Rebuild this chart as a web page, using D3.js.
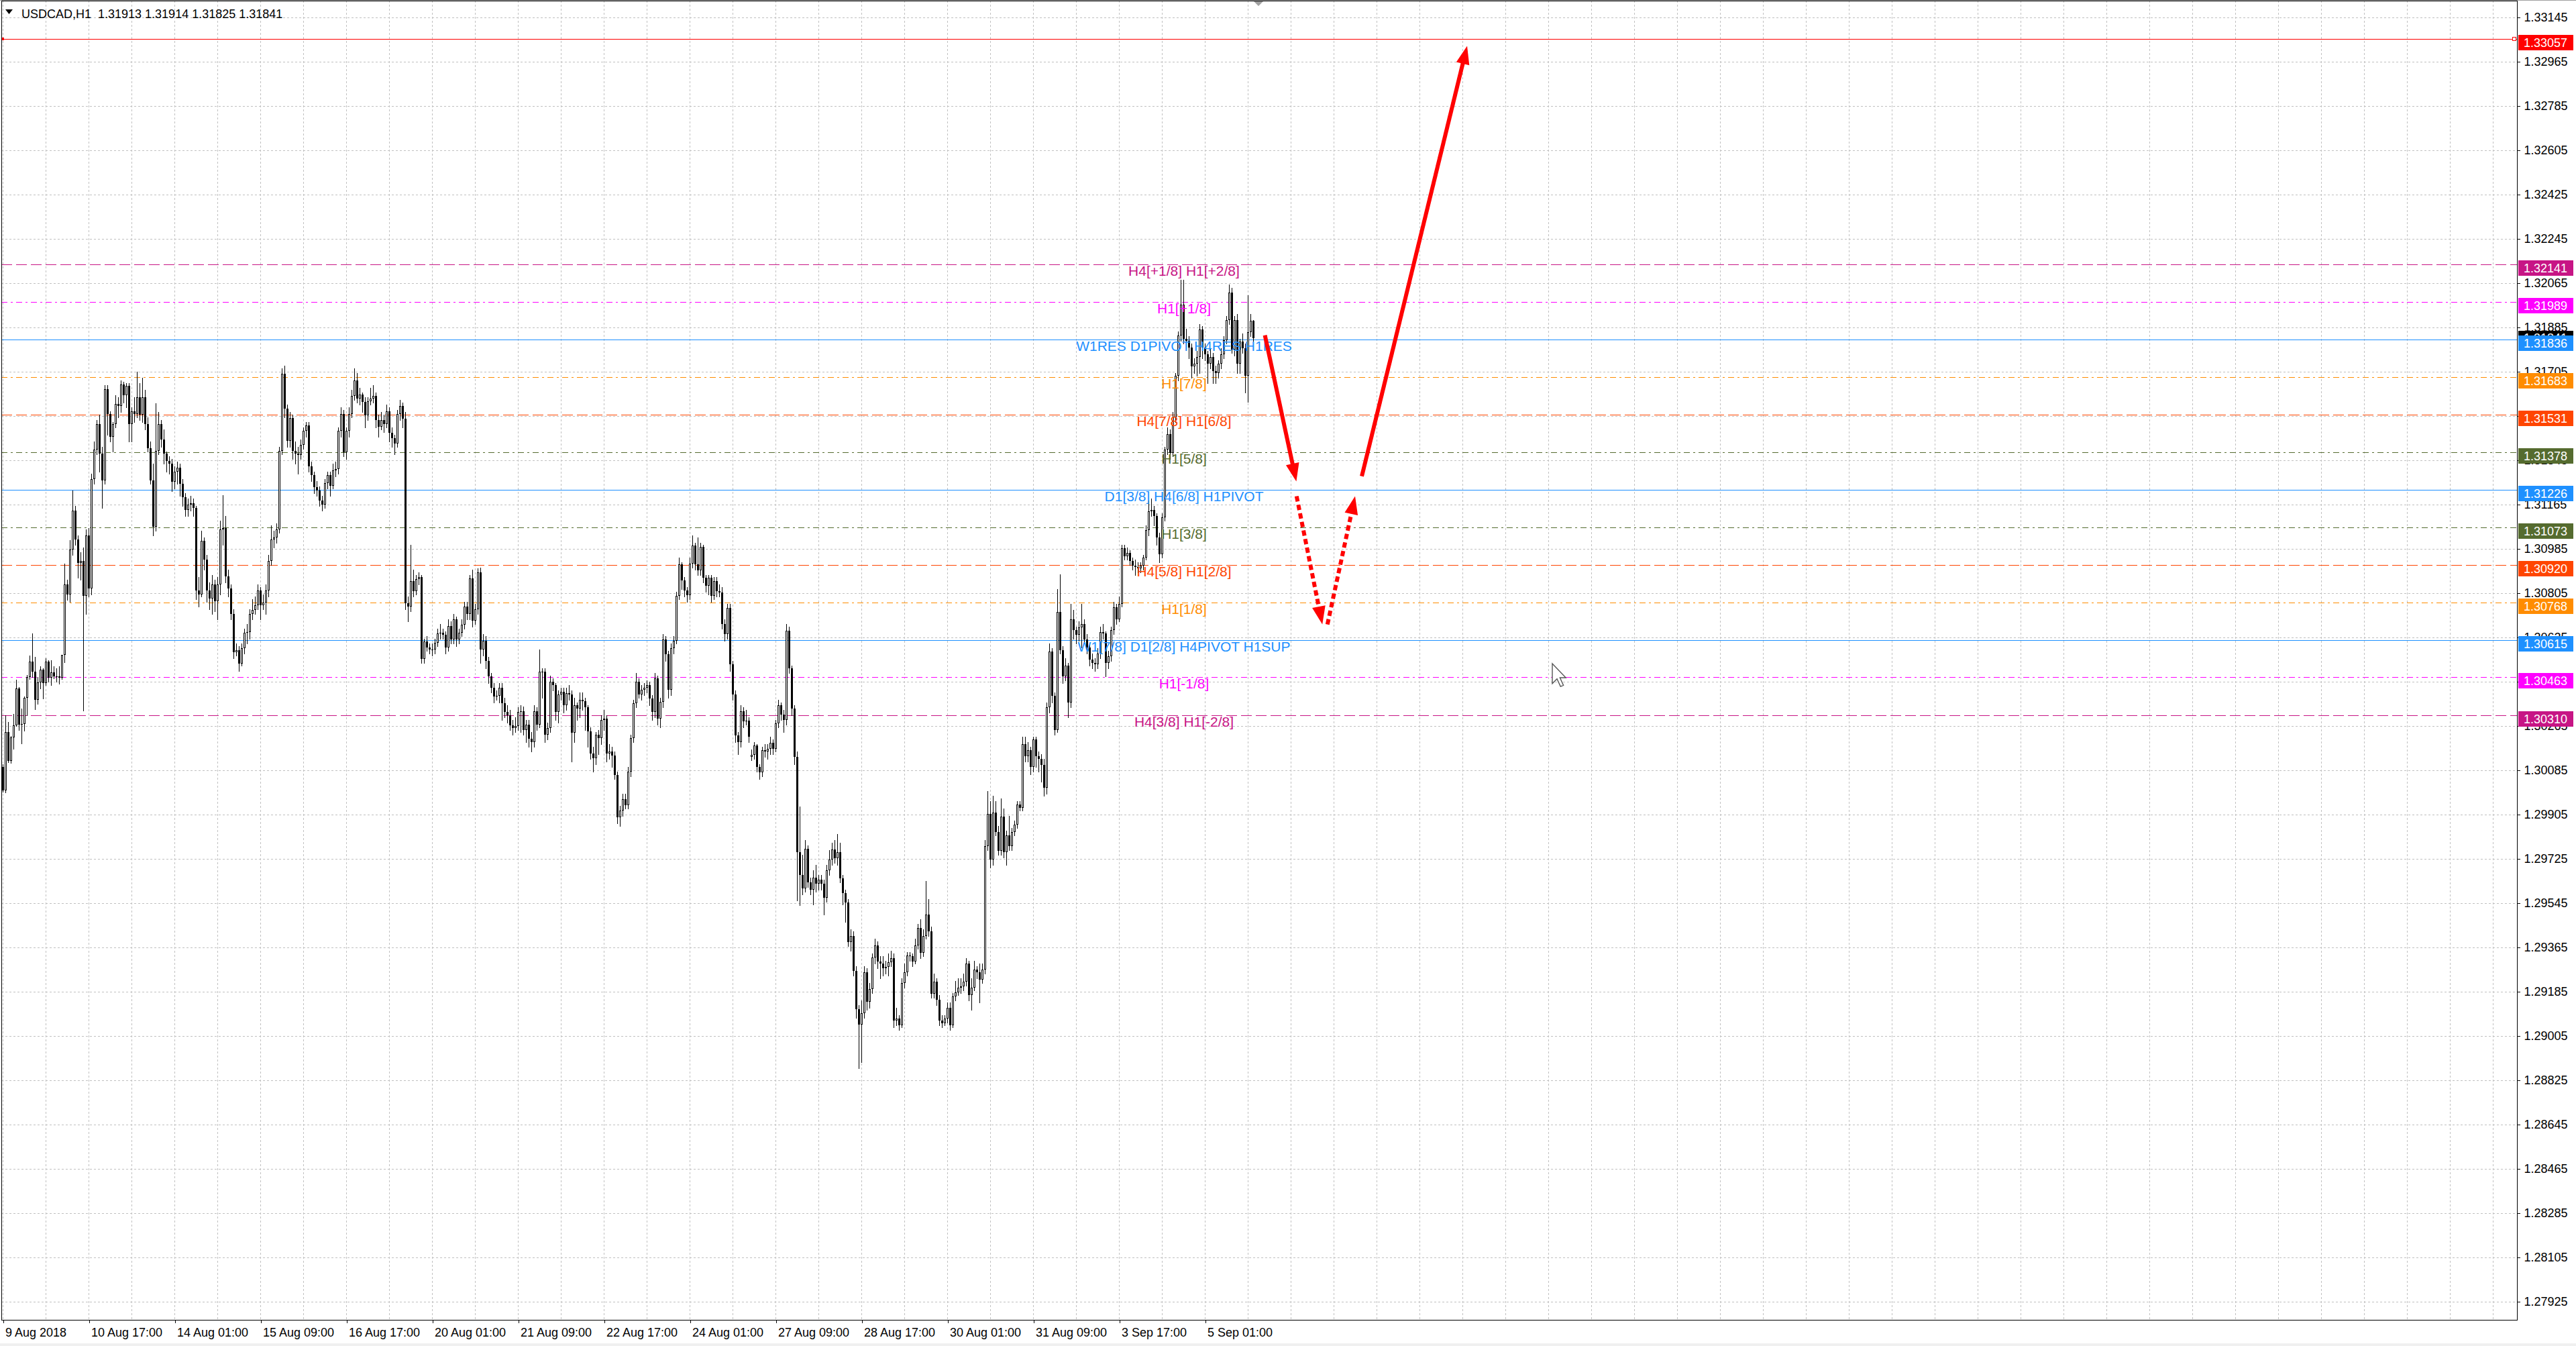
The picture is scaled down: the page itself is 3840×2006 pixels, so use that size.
<!DOCTYPE html>
<html><head><meta charset="utf-8">
<script src="https://cdn.jsdelivr.net/npm/d3@7"></script>
<style>
html,body{margin:0;padding:0;background:#fff;}
svg{display:block;}
text{font-family:"Liberation Sans",Arial,sans-serif;}
</style></head><body>
<svg id="c" width="3840" height="2006"></svg>
<script>
// USDCAD H1 candles, values in points above BASE (1 point = 0.00001)
const BASE = 1.28;
const opens = [
2100,2004,2241,2123,2218,2268,2418,2271,2273,2380,
2463,2527,2486,2371,2441,2495,2439,2527,2461,2484,
2466,2467,2462,2553,2841,2800,2982,3140,3023,2929,
2937,2794,3039,2825,3268,3388,3492,3372,3263,3633,
3534,3440,3492,3574,3566,3654,3610,3649,3492,3544,
3534,3600,3530,3600,3492,3393,3263,3075,3383,3492,
3430,3372,3341,3330,3258,3300,3315,3250,3195,3143,
3165,3170,3150,2815,2800,3018,2940,2815,2784,2841,
2773,2841,3065,3070,2872,2825,2721,2565,2573,2518,
2580,2643,2648,2721,2737,2757,2815,2757,2768,2815,
2935,3023,3030,3065,3383,3696,3555,3425,3518,3383,
3372,3367,3409,3466,3487,3320,3284,3237,3221,3180,
3164,3253,3284,3242,3305,3310,3466,3534,3378,3466,
3534,3607,3669,3597,3612,3581,3529,3586,3597,3607,
3508,3482,3508,3492,3544,3456,3435,3414,3534,3565,
3513,2763,2750,2853,2812,2862,2871,2539,2608,2585,
2576,2575,2603,2641,2644,2635,2585,2671,2617,2698,
2617,2644,2676,2750,2721,2864,2694,2739,2889,2576,
2612,2530,2467,2421,2385,2389,2421,2358,2321,2310,
2267,2258,2265,2321,2326,2249,2271,2212,2199,2326,
2271,2485,2487,2230,2258,2444,2430,2321,2394,2403,
2349,2399,2394,2239,2349,2335,2371,2367,2340,2244,
2153,2135,2230,2215,2290,2295,2153,2162,2144,2067,
1894,1921,1967,1944,2080,2217,2358,2444,2394,2412,
2421,2430,2376,2321,2458,2294,2362,2617,2558,2412,
2580,2612,2794,2921,2858,2817,2798,2926,2998,2921,
2898,2994,2867,2835,2867,2794,2853,2812,2808,2680,
2639,2744,2517,2394,2226,2199,2326,2285,2288,2139,
2149,2185,2098,2076,2167,2160,2171,2196,2171,2276,
2349,2312,2290,2653,2499,2335,2139,1752,1660,1606,
1767,1630,1600,1650,1624,1640,1625,1567,1679,1723,
1762,1728,1752,1645,1586,1547,1387,1411,1270,1114,
1051,1099,1265,1143,1197,1323,1372,1309,1300,1280,
1285,1305,1320,1067,1077,1050,1221,1265,1333,1329,
1309,1372,1445,1343,1411,1499,1430,1177,1226,1153,
1067,1058,1075,1120,1050,1167,1182,1202,1206,1226,
1299,1172,1202,1275,1265,1235,1275,1776,1908,1723,
1913,1835,1757,1898,1752,1820,1776,1835,1864,1947,
1932,2190,2141,2166,2100,2210,2141,2130,2107,2015,
2341,2569,2387,2248,2729,2573,2466,2510,2360,2700,
2654,2635,2667,2679,2617,2585,2535,2522,2516,2560,
2648,2642,2520,2548,2654,2748,2700,2761,2987,2955,
2968,2937,2918,2911,2905,2918,2949,3062,3137,3144,
3118,3031,2962,3112,3388,3451,3376,3520,3689,3852,
3978,3840,3830,3802,3727,3739,3765,3878,3802,3777,
3739,3765,3708,3700,3739,3777,3834,3915,4028,3796,
3915,3739,3827,3800,3690,3865,3913];
const highs = [
2109,2309,2282,2225,2313,2454,2422,2336,2386,2473,
2552,2641,2545,2463,2509,2500,2541,2532,2532,2509,
2500,2509,2555,2924,2860,3020,3223,3160,3040,2970,
2990,3065,3070,3290,3420,3510,3530,3400,3650,3650,
3545,3500,3610,3600,3670,3665,3660,3660,3560,3600,
3704,3660,3680,3630,3520,3420,3330,3576,3540,3510,
3470,3380,3360,3350,3320,3340,3330,3270,3210,3190,
3200,3190,3160,2870,3060,3030,2960,2850,2880,2860,
2870,3100,3203,3120,2900,2840,2740,2600,2590,2600,
2660,2680,2740,2780,2790,2840,2830,2800,2840,2960,
3080,3060,3090,3400,3720,3730,3570,3540,3530,3420,
3400,3430,3480,3500,3500,3340,3300,3260,3240,3200,
3270,3300,3300,3330,3340,3480,3560,3550,3480,3560,
3630,3720,3700,3640,3620,3600,3600,3640,3650,3620,
3530,3540,3530,3570,3560,3480,3450,3550,3590,3580,
3540,2790,3000,2900,2880,2890,2880,2620,2630,2600,
2600,2620,2660,2680,2660,2650,2700,2690,2720,2710,
2660,2700,2770,2770,2880,2900,2760,2905,2910,2640,
2630,2545,2480,2440,2410,2440,2440,2380,2350,2330,
2290,2300,2340,2350,2345,2290,2290,2240,2350,2340,
2576,2500,2500,2280,2470,2460,2440,2410,2420,2420,
2420,2430,2410,2380,2360,2400,2400,2380,2350,2260,
2180,2240,2250,2310,2330,2310,2190,2180,2160,2080,
1940,1990,1990,2100,2230,2370,2480,2460,2430,2440,
2450,2445,2390,2480,2470,2380,2640,2630,2570,2600,
2630,2810,2950,2930,2870,2830,2950,3040,3010,3030,
3010,3000,2880,2880,2880,2870,2870,2840,2830,2700,
2760,2760,2530,2410,2240,2350,2340,2330,2300,2170,
2200,2190,2110,2180,2190,2190,2220,2210,2290,2370,
2360,2330,2680,2670,2510,2350,2160,1937,1740,1800,
1780,1650,1680,1700,1660,1660,1640,1700,1760,1790,
1800,1825,1790,1660,1600,1560,1440,1430,1290,1130,
1150,1290,1280,1220,1340,1400,1390,1330,1330,1310,
1340,1350,1340,1120,1090,1240,1300,1345,1345,1340,
1400,1460,1480,1440,1635,1560,1450,1260,1240,1170,
1090,1090,1140,1140,1180,1230,1240,1240,1260,1320,
1310,1240,1310,1290,1300,1300,1800,2000,1960,1980,
1960,1860,1970,1930,1840,1900,1850,1880,1960,1960,
2220,2220,2200,2180,2220,2220,2160,2150,2130,2360,
2600,2580,2400,2820,2882,2590,2540,2520,2760,2736,
2670,2690,2761,2700,2640,2600,2560,2540,2580,2670,
2680,2650,2570,2670,2770,2760,2790,3000,3000,2990,
2980,2950,2940,2930,2930,2960,3080,3180,3190,3160,
3130,3050,3130,3400,3480,3470,3540,3700,3870,4078,
4078,3880,3850,3820,3760,3790,3900,3890,3820,3790,
3800,3780,3730,3750,3800,3850,3930,4060,4045,3930,
3940,3840,3860,3820,4016,3940,3914];
const lows = [
1999,1995,2118,2114,2172,2264,2250,2195,2245,2309,
2455,2463,2332,2354,2418,2377,2432,2445,2432,2459,
2445,2436,2455,2523,2777,2770,2960,3000,2867,2860,
2327,2720,2790,2800,3250,3370,3300,3150,3250,3450,
3420,3380,3480,3520,3540,3580,3560,3420,3420,3500,
3520,3510,3500,3470,3380,3250,3039,3060,3370,3400,
3330,3300,3290,3220,3230,3250,3200,3160,3120,3120,
3140,3120,2780,2750,2790,2900,2770,2740,2720,2730,
2700,2800,3000,2850,2790,2700,2540,2550,2490,2510,
2560,2600,2620,2700,2720,2740,2700,2740,2720,2790,
2920,2990,3010,3050,3370,3520,3400,3400,3350,3330,
3290,3350,3390,3440,3300,3260,3210,3200,3160,3140,
3150,3230,3200,3230,3280,3290,3440,3360,3350,3440,
3520,3590,3580,3570,3540,3480,3510,3570,3580,3480,
3440,3470,3460,3480,3420,3400,3370,3400,3510,3480,
2740,2690,2730,2790,2800,2840,2521,2520,2570,2560,
2550,2560,2590,2620,2620,2560,2570,2600,2600,2590,
2600,2630,2660,2700,2700,2670,2680,2720,2520,2550,
2500,2440,2400,2360,2370,2360,2290,2300,2280,2250,
2230,2240,2250,2240,2230,2200,2180,2160,2180,2250,
2260,2380,2200,2210,2240,2410,2290,2280,2370,2320,
2330,2370,2120,2200,2290,2300,2330,2250,2180,2130,
2080,2110,2150,2190,2250,2120,2130,2100,2050,1870,
1860,1900,1930,1930,2060,2200,2340,2380,2370,2390,
2400,2350,2290,2300,2270,2260,2340,2530,2380,2390,
2560,2600,2780,2820,2790,2770,2780,2910,2900,2880,
2880,2850,2810,2800,2770,2780,2790,2790,2660,2610,
2620,2490,2370,2200,2150,2180,2260,2270,2200,2125,
2130,2080,2050,2060,2140,2130,2150,2150,2160,2260,
2290,2240,2270,2480,2310,2110,1557,1538,1580,1590,
1610,1580,1540,1590,1600,1600,1499,1550,1660,1700,
1710,1700,1630,1540,1470,1370,1350,1250,1080,875,
900,1080,1110,1120,1180,1300,1280,1240,1250,1260,
1250,1290,1040,1050,1030,1040,1200,1250,1310,1290,
1300,1360,1320,1330,1400,1410,1160,1160,1130,1050,
1040,1050,1060,1030,1040,1150,1170,1180,1190,1210,
1150,1110,1190,1240,1140,1220,1260,1760,1690,1700,
1820,1740,1740,1730,1700,1760,1760,1820,1850,1920,
1920,2120,2120,2070,2080,2100,2080,2040,1980,1990,
2320,2360,2230,2240,2560,2440,2450,2300,2340,2620,
2600,2610,2585,2600,2560,2510,2500,2490,2500,2540,
2620,2466,2500,2530,2640,2680,2690,2750,2940,2940,
2920,2900,2880,2890,2890,2900,2940,3040,3120,3080,
3000,2930,2950,3100,3370,3350,3360,3500,3670,3830,
3820,3800,3760,3680,3700,3690,3700,3760,3750,3660,
3720,3660,3660,3680,3720,3760,3820,3900,3780,3770,
3700,3700,3780,3620,3583,3850,3825];
const closes = [
2004,2241,2123,2218,2268,2418,2271,2273,2380,2463,
2527,2486,2371,2441,2495,2439,2527,2461,2484,2466,
2467,2462,2553,2841,2800,2982,3140,3023,2929,2937,
2794,3039,2825,3268,3388,3492,3372,3263,3633,3534,
3440,3492,3574,3566,3654,3610,3649,3492,3544,3534,
3600,3530,3600,3492,3393,3263,3075,3383,3492,3430,
3372,3341,3330,3258,3300,3315,3250,3195,3143,3165,
3170,3150,2815,2800,3018,2940,2815,2784,2841,2773,
2841,3065,3070,2872,2825,2721,2565,2573,2518,2580,
2643,2648,2721,2737,2757,2815,2757,2768,2815,2935,
3023,3030,3065,3383,3696,3555,3425,3518,3383,3372,
3367,3409,3466,3487,3320,3284,3237,3221,3180,3164,
3253,3284,3242,3305,3310,3466,3534,3378,3466,3534,
3607,3669,3597,3612,3581,3529,3586,3597,3607,3508,
3482,3508,3492,3544,3456,3435,3414,3534,3565,3513,
2763,2750,2853,2812,2862,2871,2539,2608,2585,2576,
2575,2603,2641,2644,2635,2585,2671,2617,2698,2617,
2644,2676,2750,2721,2864,2694,2739,2889,2576,2612,
2530,2467,2421,2385,2389,2421,2358,2321,2310,2267,
2258,2265,2321,2326,2249,2271,2212,2199,2326,2271,
2485,2487,2230,2258,2444,2430,2321,2394,2403,2349,
2399,2394,2239,2349,2335,2371,2367,2340,2244,2153,
2135,2230,2215,2290,2295,2153,2162,2144,2067,1894,
1921,1967,1944,2080,2217,2358,2444,2394,2412,2421,
2430,2376,2321,2458,2294,2362,2617,2558,2412,2580,
2612,2794,2921,2858,2817,2798,2926,2998,2921,2898,
2994,2867,2835,2867,2794,2853,2812,2808,2680,2639,
2744,2517,2394,2226,2199,2326,2285,2288,2221,2149,
2185,2098,2076,2167,2160,2171,2196,2171,2276,2349,
2312,2290,2653,2499,2335,2139,1752,1660,1606,1767,
1630,1600,1650,1624,1640,1625,1567,1679,1723,1762,
1728,1752,1645,1586,1547,1387,1411,1270,1114,1051,
1099,1265,1143,1197,1323,1372,1309,1300,1280,1285,
1305,1320,1067,1077,1050,1221,1265,1333,1329,1309,
1372,1445,1343,1411,1499,1430,1177,1226,1153,1067,
1058,1075,1120,1050,1167,1182,1202,1206,1226,1299,
1172,1202,1275,1265,1235,1275,1776,1908,1723,1913,
1835,1757,1898,1752,1820,1776,1835,1864,1947,1932,
2190,2141,2166,2100,2210,2141,2130,2107,2015,2341,
2569,2387,2248,2729,2573,2466,2510,2360,2700,2654,
2635,2667,2679,2617,2585,2535,2522,2516,2560,2648,
2642,2520,2548,2654,2748,2700,2761,2987,2955,2968,
2937,2918,2911,2905,2918,2949,3062,3137,3144,3118,
3031,2962,3112,3388,3451,3376,3520,3689,3852,3978,
3840,3830,3802,3727,3739,3765,3878,3802,3777,3739,
3765,3708,3700,3739,3777,3834,3915,4028,3796,3915,
3739,3827,3800,3690,3865,3913,3841];

// time axis (bar index -> label)
const timeTickIdx = [0,32,64,96,128,160,192,224,256,288,320,352,384,416,448];
const timeTickLabels = ["9 Aug 2018","10 Aug 17:00","14 Aug 01:00","15 Aug 09:00","16 Aug 17:00",
  "20 Aug 01:00","21 Aug 09:00","22 Aug 17:00","24 Aug 01:00","27 Aug 09:00","28 Aug 17:00",
  "30 Aug 01:00","31 Aug 09:00","3 Sep 17:00","5 Sep 01:00"];
// price axis labels
const priceTicks = [1.33145,1.32965,1.32785,1.32605,1.32425,1.32245,1.32065,1.31885,1.31705,1.31525,
  1.31345,1.31165,1.30985,1.30805,1.30625,1.30445,1.30265,1.30085,1.29905,1.29725,
  1.29545,1.29365,1.29185,1.29005,1.28825,1.28645,1.28465,1.28285,1.28105,1.27925];
// horizontal levels
const levelPrices = [1.33057,1.32141,1.31989,1.31836,1.31683,1.31531,1.31378,1.31226,1.31073,1.30920,1.30768,1.30615,1.30463,1.30310];
const levelColors = ["#FF0000","#C71585","#FF00FF","#1E90FF","#FF8C00","#FF4500","#556B2F","#1E90FF","#556B2F","#FF4500","#FF8C00","#1E90FF","#FF00FF","#C71585"];
const levelStyles = ["solid","dash","dashdot","solid","dashdot","dash","dashdot","solid","dashdot","dash","dashdot","solid","dashdot","dash"];
const levelTexts = ["","H4[+1/8] H1[+2/8]","H1[+1/8]","W1RES D1PIVOT H4RES H1RES","H1[7/8]","H4[7/8] H1[6/8]",
  "H1[5/8]","D1[3/8] H4[6/8] H1PIVOT","H1[3/8]","H4[5/8] H1[2/8]","H1[1/8]","W1[7/8] D1[2/8] H4PIVOT H1SUP",
  "H1[-1/8]","H4[3/8] H1[-2/8]"];
const levelLabels = ["1.33057","1.32141","1.31989","1.31836","1.31683","1.31531","1.31378","1.31226","1.31073","1.30920","1.30768","1.30615","1.30463","1.30310"];
const bidPrice = 1.31841;
const headerText = "USDCAD,H1  1.31913 1.31914 1.31825 1.31841";
// drawn arrows: [bar index, price] start -> end
const arrowFrom = [[470.4,1.31853],[482.2,1.31199],[493.7,1.30678],[506.5,1.31280]];
const arrowTo   = [[482.1,1.31259],[491.8,1.30678],[504.0,1.31199],[545.75,1.33029]];
const arrowDotted = [false,true,true,false];

const svg = d3.select("#c");
const plotLeft = 2, plotRight = 3752, plotTop = 1, plotBottom = 1967;
const x = d3.scaleLinear().domain([0, 936]).range([4, 3748]);
const y = d3.scaleLinear().domain([1.33145, 1.27925]).range([26, 1940]);
const P = v => BASE + v / 1e5;
const FONT = '"Liberation Sans", Arial, sans-serif';

svg.append("rect").attr("width",3840).attr("height",2006).attr("fill","#fff");

// grid
const grid = svg.append("g").attr("stroke","#C0C0C0").attr("stroke-width",1).attr("stroke-dasharray","3,3").attr("shape-rendering","crispEdges");
const gridIdx = d3.range(0, 936, 16).filter(i => x(i) < plotRight - 2);
grid.selectAll("line.v").data(gridIdx).join("line")
  .attr("x1", d => Math.round(x(d)) + 0.5).attr("x2", d => Math.round(x(d)) + 0.5)
  .attr("y1", plotTop).attr("y2", plotBottom);
grid.selectAll("line.h").data(priceTicks).join("line")
  .attr("x1", plotLeft).attr("x2", plotRight)
  .attr("y1", d => Math.round(y(d)) + 0.5).attr("y2", d => Math.round(y(d)) + 0.5);

// level lines
const dashFor = s => s === "dash" ? "16,6" : (s === "dashdot" ? "9,5,3,5" : null);
const lv = svg.append("g").attr("shape-rendering","crispEdges");
lv.selectAll("line").data(levelPrices).join("line")
  .attr("x1", plotLeft).attr("x2", plotRight)
  .attr("y1", d => Math.round(y(d)) + 0.5).attr("y2", d => Math.round(y(d)) + 0.5)
  .attr("stroke", (d,i) => levelColors[i]).attr("stroke-width", 1)
  .attr("stroke-dasharray", (d,i) => dashFor(levelStyles[i]));
// red line end markers
svg.append("rect").attr("x", 3745.5).attr("y", Math.round(y(levelPrices[0])) - 2.5).attr("width",5).attr("height",5)
  .attr("fill","#fff").attr("stroke","#FF0000");
svg.append("rect").attr("x", 2).attr("y", Math.round(y(levelPrices[0])) - 2).attr("width",4).attr("height",4).attr("fill","#FF0000");

// candles
const bars = closes.map((c,i) => ({i, o:P(opens[i]), h:P(highs[i]), l:P(lows[i]), c:P(c)}));
const cg = svg.append("g").attr("shape-rendering","crispEdges");
cg.selectAll("line.w").data(bars).join("line")
  .attr("x1", d => Math.round(x(d.i)) + 0.5).attr("x2", d => Math.round(x(d.i)) + 0.5)
  .attr("y1", d => Math.round(y(d.h))).attr("y2", d => Math.round(y(d.l)) + 1)
  .attr("stroke","#000").attr("stroke-width",1);
bars.forEach(d => {
  const cx = Math.round(x(d.i));
  const top = Math.round(y(Math.max(d.o, d.c)));
  const bot = Math.round(y(Math.min(d.o, d.c)));
  if (d.c > d.o && bot - top >= 2) {
    cg.append("rect").attr("x", cx - 0.5).attr("y", top + 0.5).attr("width", 2).attr("height", bot - top - 1)
      .attr("fill","#fff").attr("stroke","#000").attr("stroke-width",1);
  } else {
    cg.append("rect").attr("x", cx - 1).attr("y", top).attr("width", 3).attr("height", Math.max(1, bot - top))
      .attr("fill","#000");
  }
});

// level labels on chart
svg.append("g").selectAll("text").data(levelPrices).join("text")
  .attr("x", 1765).attr("y", d => Math.round(y(d)) + 17)
  .attr("text-anchor","middle").attr("font-size",21).attr("font-family",FONT)
  .attr("fill", (d,i) => levelColors[i])
  .text((d,i) => levelTexts[i]);

// arrows
const ag = svg.append("g");
arrowFrom.forEach((f,k) => {
  const x1 = x(f[0]), y1 = y(f[1]), x2 = x(arrowTo[k][0]), y2 = y(arrowTo[k][1]);
  const dx = x2 - x1, dy = y2 - y1, len = Math.hypot(dx, dy);
  const ux = dx/len, uy = dy/len, hl = 27, hw = 10;
  const bx = x2 - ux*hl, by = y2 - uy*hl;
  ag.append("line").attr("x1",x1).attr("y1",y1).attr("x2",bx + ux*2).attr("y2",by + uy*2)
    .attr("stroke","#FF0000").attr("stroke-width",6)
    .attr("stroke-dasharray", arrowDotted[k] ? "8,5" : null);
  ag.append("polygon")
    .attr("points", [[x2,y2],[bx - uy*hw, by + ux*hw],[bx + uy*hw, by - ux*hw]].map(p=>p.join(",")).join(" "))
    .attr("fill","#FF0000");
});

// price axis
const yAxis = d3.axisRight(y).tickValues(priceTicks).tickSize(4).tickPadding(6).tickFormat(d3.format(".5f"));
svg.append("g").attr("transform",`translate(${plotRight + 0.5},0)`).call(yAxis)
  .call(g => g.select(".domain").remove())
  .call(g => g.selectAll("line").attr("stroke","#000").attr("shape-rendering","crispEdges"))
  .call(g => g.selectAll("text").attr("font-size",18).attr("font-family",FONT).attr("fill","#000"));

// bid tag then level tags
const tagG = svg.append("g");
tagG.append("rect").attr("x",3754).attr("y",Math.round(y(bidPrice)) - 11).attr("width",82).attr("height",23).attr("fill","#000");
tagG.append("text").attr("x",3762).attr("y",Math.round(y(bidPrice)) + 6).attr("font-size",18).attr("font-family",FONT)
  .attr("fill","#fff").text(d3.format(".5f")(bidPrice));
levelPrices.forEach((p,i) => {
  const yy = Math.round(y(p));
  tagG.append("rect").attr("x",3754).attr("y",yy - 6).attr("width",82).attr("height",23).attr("fill",levelColors[i]);
  tagG.append("text").attr("x",3762).attr("y",yy + 12).attr("font-size",18).attr("font-family",FONT)
    .attr("fill","#fff").text(levelLabels[i]);
});

// time axis
const xAxis = d3.axisBottom(x).tickValues(timeTickIdx).tickSize(5).tickFormat((d,i) => timeTickLabels[i]);
svg.append("g").attr("transform",`translate(0.5,${plotBottom})`).call(xAxis)
  .call(g => g.select(".domain").remove())
  .call(g => g.selectAll("line").attr("stroke","#000").attr("shape-rendering","crispEdges"))
  .call(g => g.selectAll("text").attr("text-anchor","start").attr("x",3).attr("y",25).attr("dy",0)
    .attr("font-size",18).attr("font-family",FONT).attr("fill","#000"));

// frame
svg.append("rect").attr("x",plotLeft + 0.5).attr("y",plotTop + 0.5).attr("width",plotRight - plotLeft).attr("height",plotBottom - plotTop)
  .attr("fill","none").attr("stroke","#000").attr("stroke-width",1).attr("shape-rendering","crispEdges");
svg.append("line").attr("x1",0).attr("x2",3840).attr("y1",0.5).attr("y2",0.5).attr("stroke","#A0A0A0");
svg.append("rect").attr("x",0).attr("y",2002).attr("width",3840).attr("height",4).attr("fill","#F0F0F0");

// header
svg.append("polygon").attr("points","8,14 19,14 13.5,21").attr("fill","#000");
svg.append("text").attr("x",32).attr("y",27).attr("font-size",18).attr("font-family",FONT).attr("fill","#000")
  .attr("xml:space","preserve").style("white-space","pre").text(headerText);

// chart shift marker
svg.append("polygon").attr("points","1869,2 1883,2 1876,9").attr("fill","#A0A0A0");

// mouse cursor
svg.append("path").attr("transform","translate(2314,989) scale(1.75)")
  .attr("d","M0,0 L0,17 L4,13 L7,19.5 L9.5,18.5 L6.5,12 L11.5,12 Z")
  .attr("fill","#fff").attr("stroke","#555").attr("stroke-width",0.8);
</script>
</body></html>
